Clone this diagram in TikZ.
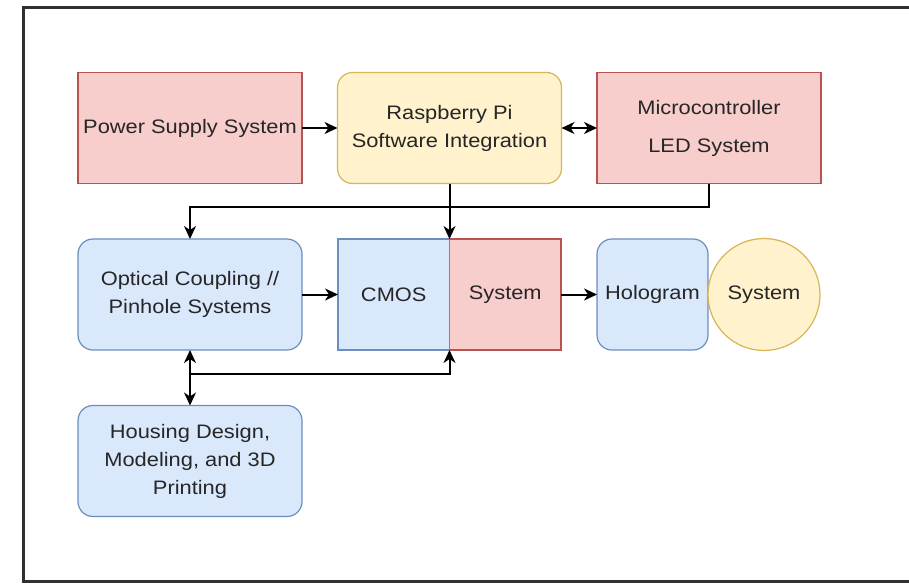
\documentclass[tikz,border=0pt]{standalone}
\usepackage{fontspec}
\setmainfont{Liberation Sans}[FakeStretch=1.12]
\usetikzlibrary{arrows.meta}
\definecolor{redfill}{HTML}{F8CECC}
\definecolor{redline}{HTML}{B85450}
\definecolor{yelfill}{HTML}{FFF2CC}
\definecolor{yelline}{HTML}{D6B656}
\definecolor{bluefill}{HTML}{DAE8FC}
\definecolor{blueline}{HTML}{6C8EBF}
\definecolor{txtcol}{HTML}{262626}
\definecolor{framecol}{HTML}{303030}
\tikzset{
  basebox/.style={minimum width=224pt, minimum height=111pt, inner sep=0pt, outer sep=0pt, line width=1.2pt,
    align=center, text=txtcol, font=\fontsize{19.5}{28}\selectfont},
  redbox/.style={basebox, fill=redfill, draw=redline},
  yelbox/.style={basebox, fill=yelfill, draw=yelline, rounded corners=15pt},
  bluebox/.style={basebox, fill=bluefill, draw=blueline, rounded corners=15pt},
  halfbox/.style={minimum width=111.5pt},
  conn/.style={line width=2pt, draw=black},
  tip/.style={-{Stealth[length=13pt,width=12pt,inset=4pt]}},
  twotip/.style={{Stealth[length=13pt,width=12pt,inset=4pt]}-{Stealth[length=13pt,width=12pt,inset=4pt]}},
}
\begin{document}
\begin{tikzpicture}[x=1pt,y=-1pt]
\useasboundingbox (0,0) rectangle (909,584);
\fill[white] (0,0) rectangle (909,584);
\draw[framecol, line width=3pt] (940,7.5) -- (23,7.5) -- (23,581) -- (940,581);

% row 1
\node[redbox] (power) at (190,128) {Power Supply System};
\node[yelbox] (rasp) at (449.5,128) {Raspberry Pi\\Software Integration};
\node[redbox] (micro) at (709,128) {\rule{0pt}{8pt}Microcontroller\\[10pt]LED System};

% row 2
\node[bluebox] (optical) at (190,294.5) {Optical Coupling //\\Pinhole Systems};
\node[basebox, halfbox, fill=bluefill, draw=blueline] (cmos) at (393.75,294.5) {CMOS};
\node[basebox, halfbox, fill=redfill, draw=redline] (sys) at (505.25,294.5) {System};
\draw[blueline!70!gray, line width=1.2pt] (cmos.north east) -- (cmos.south east);
\node[bluebox, halfbox, minimum width=111pt] (holo) at (652.5,294.5) {Hologram};
\node[basebox, circle, minimum size=112pt, minimum width=112pt, minimum height=112pt, fill=yelfill, draw=yelline] (circ) at (764,294.5) {System};

% row 3
\node[bluebox] (housing) at (190,461) {Housing Design,\\Modeling, and 3D\\Printing};

% connectors
\draw[conn, tip] (power.east) -- (rasp.west);
\draw[conn, twotip] (rasp.east) -- (micro.west);
\coordinate (mbend) at (709,207);
\draw[conn, tip] (micro.south) -- (mbend) -| (optical.north);
\draw[conn, tip] (rasp.south) -- (cmos.north east);
\draw[conn, tip] (optical.east) -- (cmos.west);
\draw[conn, tip] (sys.east) -- (holo.west);
\draw[conn, twotip] (optical.south) -- (housing.north);
\coordinate (jn) at (190,374);
\draw[conn, tip] (jn) -| (cmos.south east);
\end{tikzpicture}
\end{document}
